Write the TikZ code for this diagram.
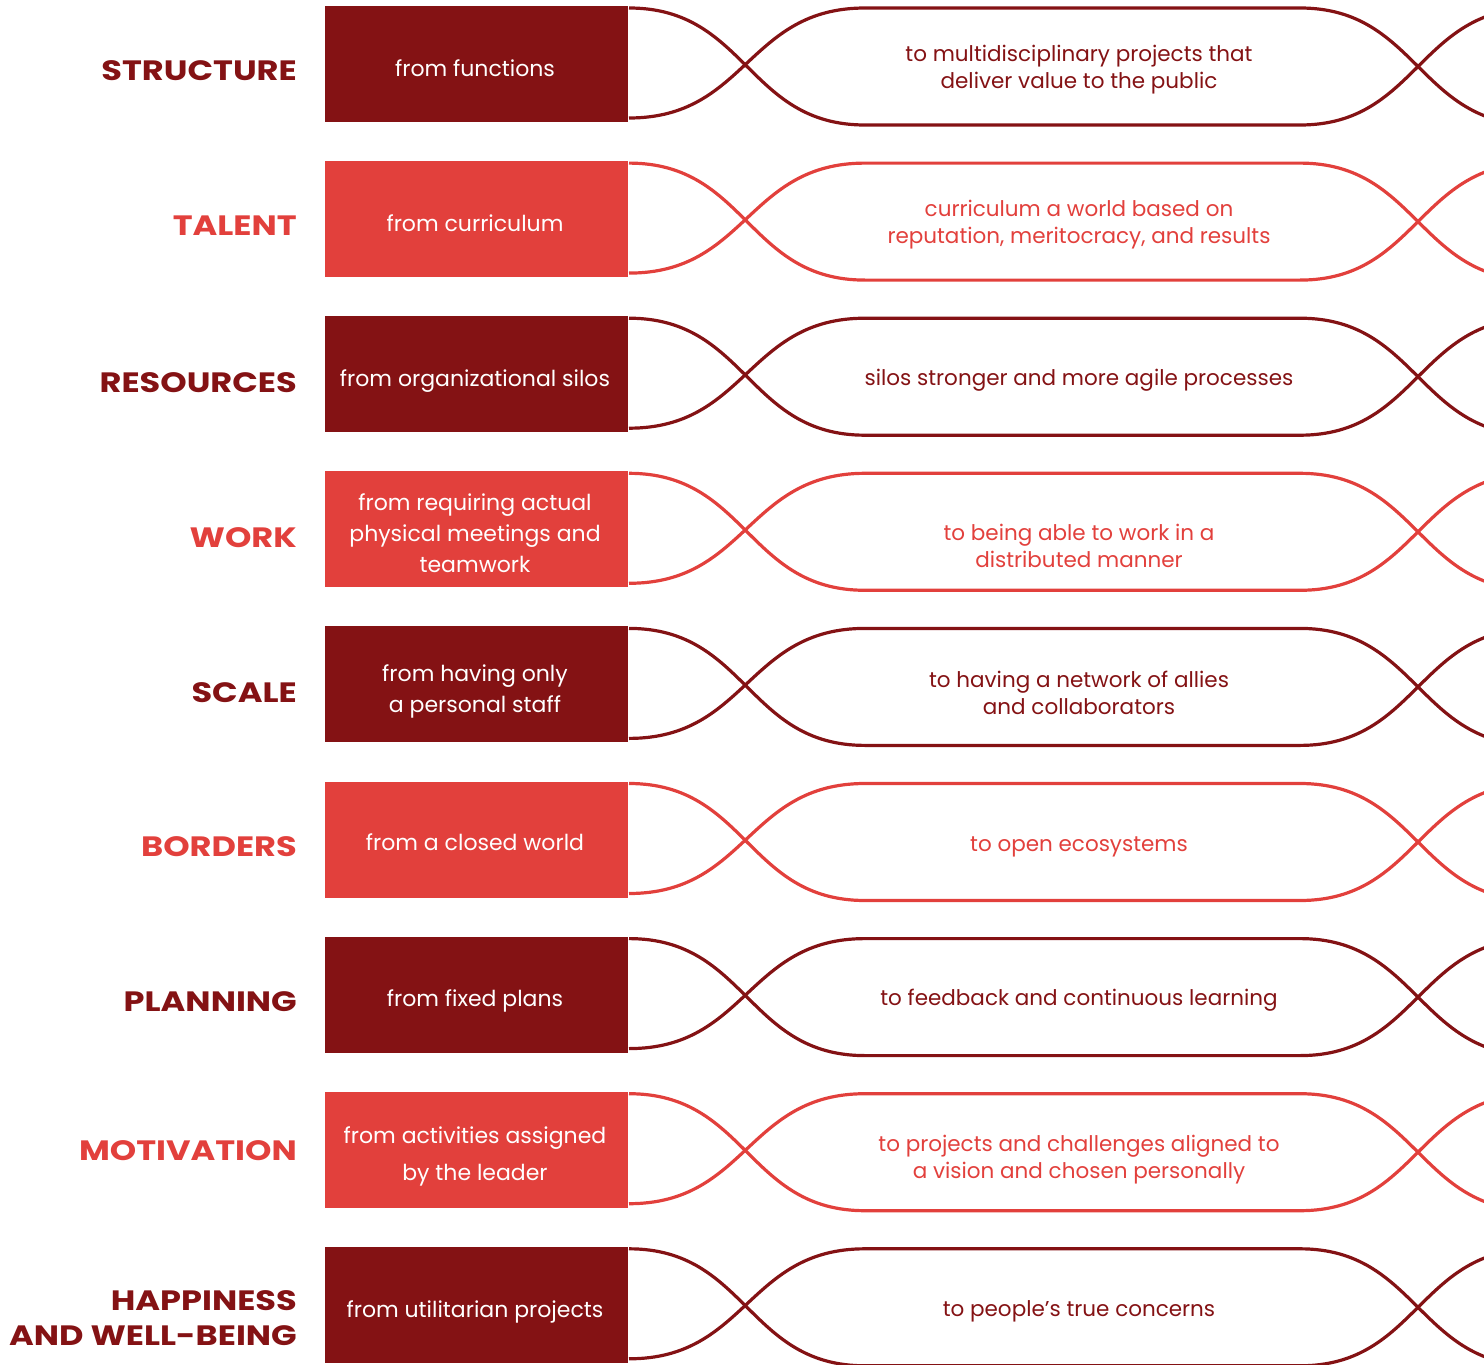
\documentclass[tikz,border=0pt]{standalone}
\usepackage{fontspec}
\setmainfont{Poppins}
\newfontfamily\labfont[FakeStretch=1.2]{Poppins}
\definecolor{dk}{RGB}{132,18,20}
\definecolor{lt}{RGB}{226,64,60}
\tikzset{
  box/.style={minimum width=303pt, minimum height=116pt, inner sep=0pt},
  boxtext/.style={align=center, text=white, inner sep=0pt, font=\fontsize{22}{31}\selectfont},
  lab/.style={anchor=east, align=right, inner sep=0pt, font=\labfont\fontsize{28}{35}\selectfont\bfseries},
  totext/.style={align=center, inner sep=0pt, font=\fontsize{21.5}{27}\selectfont},
  wire/.style={line width=3.2pt},
}
% #1 index, #2 colour, #3 label, #4 from-text, #5 to-text, #6 label offset, #7 from offset, #8 to offset
\newcommand\DrawRow[8]{%
  \pgfmathsetmacro\yt{6+155.1*(#1-1)}%
  \pgfmathsetmacro\yc{\yt+58}%
  \node[box, fill=#2] (box#1) at (476.5,\yc) {};
  \node[boxtext] (from#1) at (475,\yc+#7) {#4};
  \node[lab, text=#2] (lab#1) at (297,\yc+#6) {#3};
  \node[totext, text=#2] (to#1) at (1079,\yc+#8) {#5};
  \coordinate (lt#1) at (629,\yt+2);
  \coordinate (lb#1) at (629,\yt+112);
  \coordinate (mt#1) at (865,\yt+2);
  \coordinate (mb#1) at (865,\yt+119);
  \coordinate (nt#1) at (1300,\yt+2);
  \coordinate (nb#1) at (1300,\yt+119);
  \coordinate (et#1) at (1536,\yt+2);
  \coordinate (eb#1) at (1536,\yt+119);
  \draw[wire, #2] (lt#1) .. controls (747,\yt+2) and (747,\yt+119) .. (mb#1) -- (nb#1)
     .. controls (1418,\yt+119) and (1418,\yt+2) .. (et#1);
  \draw[wire, #2] (lb#1) .. controls (747,\yt+112) and (747,\yt+2) .. (mt#1) -- (nt#1)
     .. controls (1418,\yt+2) and (1418,\yt+119) .. (eb#1);
}
\begin{document}
\begin{tikzpicture}[x=1pt, y=-1pt]
\useasboundingbox (0,0) rectangle (1484,1365);
\clip (0,0) rectangle (1484,1365);
\DrawRow{1}{dk}{STRUCTURE}{from functions}{to multidisciplinary projects that\\deliver value to the public}{7}{4}{6}
\DrawRow{2}{lt}{TALENT}{from curriculum}{curriculum a world based on\\reputation, meritocracy, and results}{7}{4}{6}
\DrawRow{3}{dk}{RESOURCES}{from organizational silos}{silos stronger and more agile processes}{8}{7}{6}
\DrawRow{4}{lt}{WORK}{from requiring actual\\physical meetings and\\teamwork}{to being able to work in a\\distributed manner}{8}{4}{17}
\DrawRow{5}{dk}{SCALE}{from having only\\a personal staff}{to having a network of allies\\and collaborators}{8}{7}{8}
\DrawRow{6}{lt}{BORDERS}{from a closed world}{to open ecosystems}{7}{3}{7}
\DrawRow{7}{dk}{PLANNING}{from fixed plans}{to feedback and continuous learning}{7}{6}{6}
\DrawRow{8}{lt}{MOTIVATION}{from activities assigned\\[6pt]by the leader}{to projects and challenges aligned to\\a vision and chosen personally}{1}{7}{10}
\DrawRow{9}{dk}{HAPPINESS\\AND WELL-BEING}{from utilitarian projects}{to people’s true concerns}{13}{7}{7}
\end{tikzpicture}
\end{document}
